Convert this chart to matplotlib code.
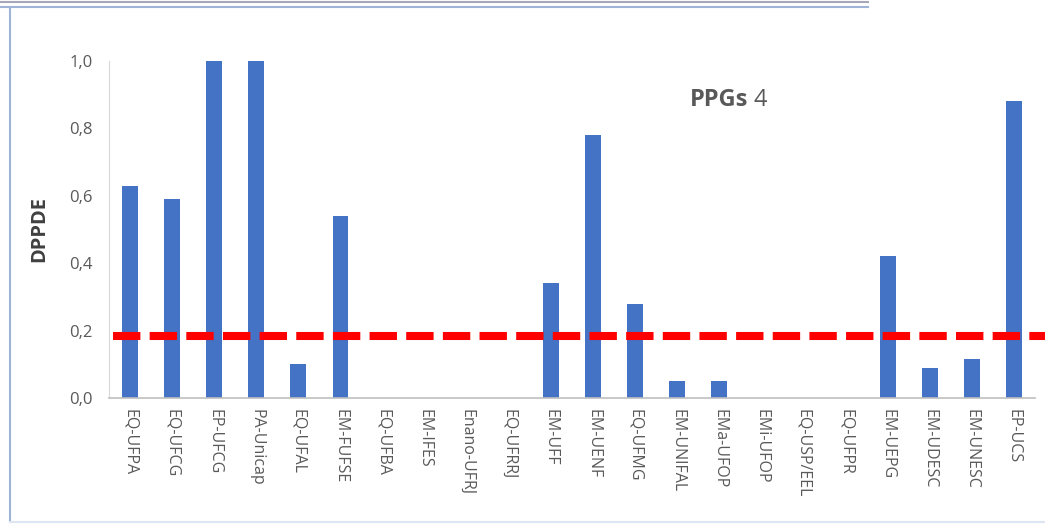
import matplotlib
matplotlib.use("Agg")
import matplotlib.pyplot as plt
from matplotlib.lines import Line2D

programas = ["EQ-UFPA", "EQ-UFCG", "EP-UFCG", "PA-Unicap", "EQ-UFAL", "EM-FUFSE",
             "EQ-UFBA", "EM-IFES", "Enano-UFRJ", "EQ-UFRRJ", "EM-UFF", "EM-UENF",
             "EQ-UFMG", "EM-UNIFAL", "EMa-UFOP", "EMi-UFOP", "EQ-USP/EEL", "EQ-UFPR",
             "EM-UEPG", "EM-UDESC", "EM-UNESC", "EP-UCS"]
dppde = [0.63, 0.59, 1.0, 1.0, 0.10, 0.54,
         0.0, 0.0, 0.0, 0.0, 0.34, 0.78,
         0.28, 0.05, 0.05, 0.0, 0.0, 0.0,
         0.42, 0.09, 0.115, 0.88]
limite = 0.185
yticks = [0.0, 0.2, 0.4, 0.6, 0.8, 1.0]
ytick_labels = ["0,0", "0,2", "0,4", "0,6", "0,8", "1,0"]

plt.rcParams["font.family"] = ["Open Sans", "DejaVu Sans"]

W, H = 1045, 524
fig = plt.figure(figsize=(W / 100, H / 100), dpi=100)
ax = fig.add_axes([109 / W, 1 - 398 / H, (1035 - 109) / W, (398 - 61) / H])

x = range(len(programas))
ax.bar(x, dppde, width=0.38, color="#4472C4", zorder=2)
ax.set_xlim(-0.5, len(programas) - 0.5)
ax.set_ylim(0, 1.0)

ax.set_yticks(yticks)
ax.set_yticklabels(ytick_labels, fontsize=12, color="#595959")
ax.set_xticks(list(x))
ax.set_xticklabels(programas, rotation=270, fontsize=11.5, color="#595959")
ax.tick_params(axis="y", length=0, pad=12)
ax.tick_params(axis="x", length=0, pad=8)

for s in ["top", "right"]:
    ax.spines[s].set_visible(False)
ax.spines["left"].set_color("#d9d9d9")
ax.spines["bottom"].set_color("#bfbfbf")
ax.spines["bottom"].set_linewidth(1.2)

ax.set_ylabel("DPPDE", fontsize=14.5, fontweight="bold", color="#404040", labelpad=14)

# linha de corte
ax.axhline(limite, xmin=0.004, xmax=1.012, color="#FF0000", linewidth=5.8,
           dashes=(3.4, 1.15), clip_on=False, zorder=3)

ax.text(0.690, 0.885, "PPGs", transform=ax.transAxes, fontsize=17, fontweight="bold",
        color="#595959", ha="right", va="center")
ax.text(0.696, 0.885, "4", transform=ax.transAxes, fontsize=17,
        color="#595959", ha="left", va="center")

# moldura
fig.add_artist(Line2D([0, 868 / W], [1 - 2 / H, 1 - 2 / H], color="#a6a6b8", linewidth=1.5))
fig.add_artist(Line2D([0, 868 / W], [1 - 7 / H, 1 - 7 / H], color="#9fb3d9", linewidth=1.5))
fig.add_artist(Line2D([10 / W, 10 / W], [1 - 8 / H, 1 - 522 / H], color="#9fb3d9", linewidth=1.5))
fig.add_artist(Line2D([10 / W, 1 - 1 / W], [1 - 522 / H, 1 - 522 / H], color="#dfe6f3", linewidth=1.5))

fig.savefig("out.png", dpi=100)
